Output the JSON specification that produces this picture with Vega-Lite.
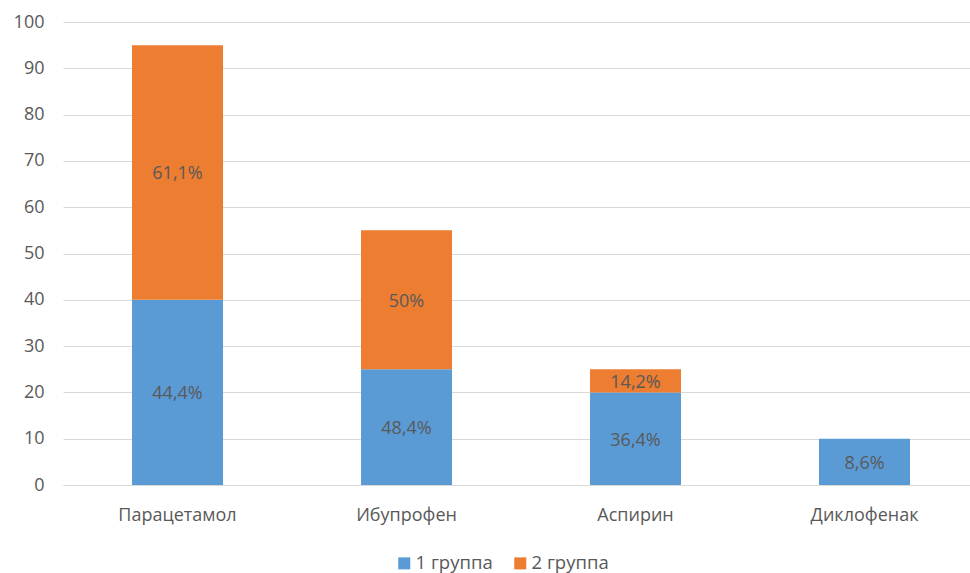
{
  "$schema": "https://vega.github.io/schema/vega-lite/v6.json",
  "width": 907,
  "height": 463,
  "autosize": {"type": "none"},
  "padding": {"left": 63, "top": 22, "right": 0, "bottom": 88},
  "background": "white",
  "config": {
    "view": {"stroke": null},
    "font": "Open Sans",
    "axis": {"labelFont": "Open Sans", "labelColor": "#595959", "labelFontSize": 18, "titleFontSize": 18},
    "legend": {"labelFont": "Open Sans", "labelColor": "#595959", "labelFontSize": 18}
  },
  "data": {
    "values": [
      {"drug": "Парацетамол", "group": "1 группа", "value": 40, "label": "44,4%"},
      {"drug": "Парацетамол", "group": "2 группа", "value": 55, "label": "61,1%"},
      {"drug": "Ибупрофен", "group": "1 группа", "value": 25, "label": "48,4%"},
      {"drug": "Ибупрофен", "group": "2 группа", "value": 30, "label": "50%"},
      {"drug": "Аспирин", "group": "1 группа", "value": 20, "label": "36,4%"},
      {"drug": "Аспирин", "group": "2 группа", "value": 5, "label": "14,2%"},
      {"drug": "Диклофенак", "group": "1 группа", "value": 10, "label": "8,6%"}
    ]
  },
  "encoding": {
    "x": {
      "field": "drug",
      "type": "nominal",
      "sort": ["Парацетамол", "Ибупрофен", "Аспирин", "Диклофенак"],
      "scale": {"paddingInner": 0.6026, "paddingOuter": 0.2817, "align": 0.535},
      "axis": {
        "title": null,
        "labelAngle": 0,
        "ticks": false,
        "domain": true,
        "domainColor": "#D9D9D9",
        "domainWidth": 1,
        "labelPadding": 21
      }
    }
  },
  "layer": [
    {
      "mark": {"type": "bar"},
      "encoding": {
        "y": {
          "field": "value",
          "type": "quantitative",
          "stack": "zero",
          "scale": {"domain": [0, 100], "nice": false},
          "axis": {
            "title": null,
            "values": [0, 10, 20, 30, 40, 50, 60, 70, 80, 90, 100],
            "grid": true,
            "gridColor": "#D9D9D9",
            "gridWidth": 1,
            "domain": false,
            "ticks": false,
            "labelPadding": 19
          }
        },
        "color": {
          "field": "group",
          "type": "nominal",
          "scale": {"domain": ["1 группа", "2 группа"], "range": ["#5B9BD5", "#ED7D31"]},
          "legend": {
            "title": null,
            "orient": "none",
            "direction": "horizontal",
            "legendX": 332,
            "legendY": 532,
            "symbolType": "square",
            "symbolSize": 144,
            "symbolStrokeWidth": 0,
            "symbolOpacity": 1,
            "labelOffset": 2,
            "labelFontSize": 18.5,
            "columnPadding": 18
          }
        },
        "order": {"field": "group", "sort": "ascending"}
      }
    },
    {
      "transform": [
        {"stack": "value", "groupby": ["drug"], "sort": [{"field": "group", "order": "ascending"}], "as": ["v0", "v1"]},
        {"fold": ["v0", "v1"], "as": ["edge", "pos"]}
      ],
      "mark": {"type": "text", "color": "#595959", "fontSize": 18, "baseline": "middle", "dy": 2},
      "encoding": {
        "y": {"field": "pos", "aggregate": "mean", "type": "quantitative"},
        "text": {"field": "label"},
        "detail": {"field": "group"}
      }
    }
  ]
}
